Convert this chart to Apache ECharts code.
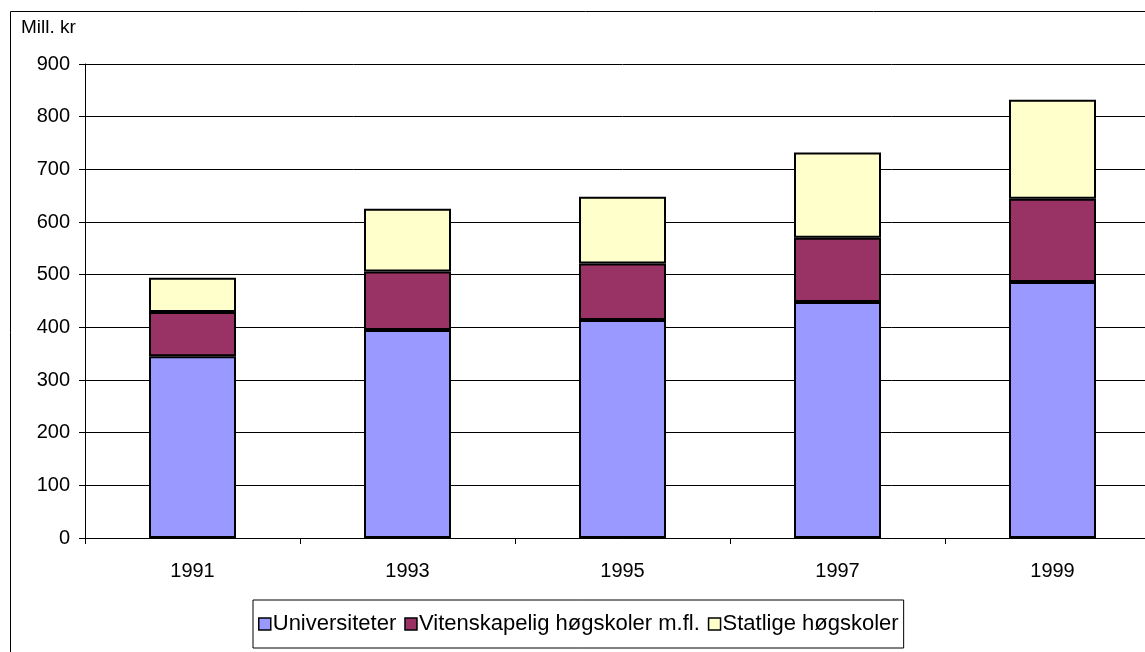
<!DOCTYPE html>
<html>
<head>
<meta charset="utf-8">
<script src="https://cdn.jsdelivr.net/npm/echarts@6/dist/echarts.min.js"></script>
<style>
  html, body { margin: 0; padding: 0; background: #fff; overflow: hidden; }
  /* a bit wider than the window: the original plot runs past the right edge */
  #main { width: 1160px; height: 652px; }
</style>
</head>
<body>
<div id="main"></div>
<script>
// data (mill. kr)
var years = ['1991', '1993', '1995', '1997', '1999'];
var universiteter = [345, 395, 414, 448, 486];
var vitenskapelig = [84, 111, 107, 122, 158];
var statlige = [65, 119, 127, 162, 188];

var font = 'Arial, "Liberation Sans", sans-serif';

function init_chart() {
    var chart = echarts.init(document.getElementById('main'), null, {renderer: 'canvas'});
    chart.setOption({
        animation: false,
        title: {
            text: 'Mill. kr',
            left: 21,
            top: 18,
            padding: 0,
            textStyle: {color: '#000', fontFamily: font, fontSize: 19, fontWeight: 'normal'}
        },
        graphic: [{
            // outer chart frame, runs off the right and bottom edges
            type: 'rect',
            shape: {x: 10.5, y: 11.5, width: 1200, height: 700},
            style: {fill: 'none', stroke: '#000', lineWidth: 1},
            silent: true
        }],
        legend: {
            left: 253,
            top: 600,
            padding: [13, 5, 13, 5],
            itemGap: 8,
            itemWidth: 12,
            itemHeight: 12,
            borderColor: '#000',
            borderWidth: 1,
            icon: 'rect',
            itemStyle: {borderColor: '#000', borderWidth: 1.5},
            textStyle: {color: '#000', fontFamily: font, fontSize: 22, padding: [0, 0, 0, -3]},
            data: ['Universiteter', 'Vitenskapelig høgskoler m.fl.', 'Statlige høgskoler']
        },
        grid: {
            left: 85,
            top: 64,
            right: 0,
            height: 474
        },
        xAxis: {
            type: 'category',
            data: years,
            boundaryGap: true,
            axisLine: {lineStyle: {color: '#000', width: 1}},
            axisTick: {show: true, length: 6, alignWithLabel: false, lineStyle: {color: '#000'}},
            axisLabel: {color: '#000', fontFamily: font, fontSize: 20, margin: 23},
            splitLine: {show: false}
        },
        yAxis: {
            type: 'value',
            min: 0,
            max: 900,
            interval: 100,
            axisLine: {show: true, lineStyle: {color: '#000', width: 1}},
            axisTick: {show: true, length: 6, lineStyle: {color: '#000'}},
            axisLabel: {color: '#000', fontFamily: font, fontSize: 20, margin: 15},
            splitLine: {show: true, lineStyle: {color: '#000', width: 1}}
        },
        series: [{
            name: 'Universiteter',
            type: 'bar',
            stack: 'total',
            barWidth: 87,
            data: universiteter,
            itemStyle: {color: '#9999FF', borderColor: '#000', borderWidth: 2}
        }, {
            name: 'Vitenskapelig høgskoler m.fl.',
            type: 'bar',
            stack: 'total',
            data: vitenskapelig,
            itemStyle: {color: '#993366', borderColor: '#000', borderWidth: 2}
        }, {
            name: 'Statlige høgskoler',
            type: 'bar',
            stack: 'total',
            data: statlige,
            itemStyle: {color: '#FFFFCC', borderColor: '#000', borderWidth: 2}
        }]
    });
    return chart;
}

var chart = init_chart();
</script>
</body>
</html>
